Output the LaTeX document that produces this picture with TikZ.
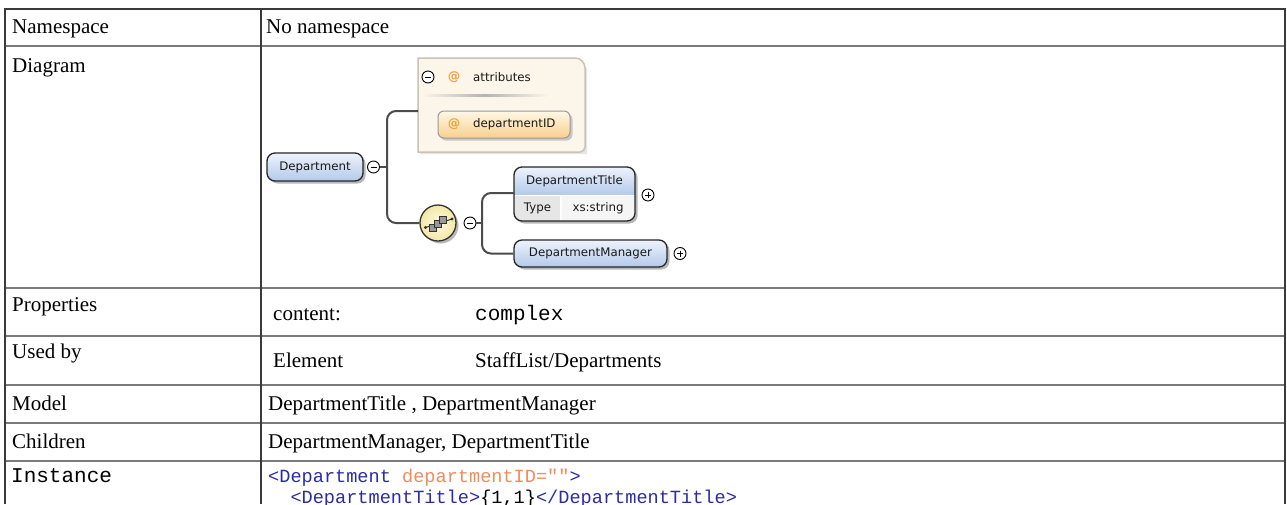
\documentclass[tikz,border=0pt]{standalone}
\usepackage{fontspec}
\setmainfont{Liberation Serif}
\newfontfamily\codefont{Liberation Mono}
\newfontfamily\dfont{DejaVu Sans}
\usetikzlibrary{calc}
\definecolor{tline}{HTML}{3A3A3A}
\definecolor{rline}{HTML}{7A7A7A}
\definecolor{elTop}{HTML}{EDF3FC}
\definecolor{elBot}{HTML}{B4C9EA}
\definecolor{attrFill}{HTML}{FBF5EA}
\definecolor{attrBorder}{HTML}{C9C2B6}
\definecolor{idTop}{HTML}{FFF7E6}
\definecolor{idBot}{HTML}{F9D08E}
\definecolor{atcol}{HTML}{EBA23A}
\definecolor{seqIn}{HTML}{FFFBE0}
\definecolor{seqOut}{HTML}{F2E7A6}
\definecolor{cblue}{HTML}{2B2BA8}
\definecolor{corange}{HTML}{F08C5C}
\definecolor{typeFill}{HTML}{E6E6E6}
\definecolor{valFill}{HTML}{F5F5F5}
\begin{document}
\begin{tikzpicture}[x=1pt,y=-1pt,
  lbl/.style={anchor=base west, inner sep=0pt, font=\fontsize{21}{24}\selectfont},
  mono/.style={anchor=base west, inner sep=0pt, font=\codefont\fontsize{21}{24}\selectfont},
  code/.style={anchor=base west, inner sep=0pt, font=\codefont\fontsize{18.6}{22}\selectfont},
  dtxt/.style={inner sep=0pt, font=\dfont\fontsize{11.8}{14}\selectfont, text=black!90},
  attxt/.style={inner sep=0pt, font=\dfont\bfseries\fontsize{12.5}{14}\selectfont, text=atcol},
  elbox/.style={draw=black!85, line width=1.3pt, rounded corners=8pt, top color=elTop, bottom color=elBot, inner sep=0pt, font=\dfont\fontsize{11.8}{14}\selectfont, text=black!90},
  shd/.style={fill=black!28, rounded corners=8pt},
  conn/.style={draw=black!70, line width=2pt, rounded corners=9pt},
  tog/.style={circle, draw=black, line width=0.9pt, fill=white, minimum size=12pt, inner sep=0pt},
  togminus/.style={tog, path picture={\draw[line width=0.9pt] ([xshift=-3pt]path picture bounding box.center) -- ([xshift=3pt]path picture bounding box.center);}},
  togplus/.style={tog, path picture={\draw[line width=0.9pt] ([xshift=-3pt]path picture bounding box.center) -- ([xshift=3pt]path picture bounding box.center) ([yshift=-3pt]path picture bounding box.center) -- ([yshift=3pt]path picture bounding box.center);}},
  rowl/.style={draw=rline, line width=1.5pt},
]
\useasboundingbox (0,0) rectangle (1287,504);
\fill[white] (0,0) rectangle (1287,504);

% ---------- table ----------
\foreach \yy in {46,288,336,385,423,461} {\draw[rowl] (5,\yy) -- (1285,\yy);}
\draw[tline, line width=1.3pt] (261,9) -- (261,504);
\draw[tline, line width=1.3pt] (5,504) -- (5,9) -- (1285,9) -- (1285,504);

\node[lbl] (lns) at (12,33.5) {Namespace};
\node[lbl] (vns) at (266,33.5) {No namespace};
\node[lbl] (ldg) at (12,72) {Diagram};
\node[lbl] (lpr) at (12,311.5) {Properties};
\node[lbl] (vpr) at (273,320) {content:};
\node[mono] (vpr2) at (475,320) {complex};
\node[lbl] (lub) at (12,358.5) {Used by};
\node[lbl] (vub) at (273,367) {Element};
\node[lbl] (vub2) at (475,367) {StaffList/Departments};
\node[lbl] (lmo) at (12,410) {Model};
\node[lbl] (vmo) at (268,410) {DepartmentTitle , DepartmentManager};
\node[lbl] (lch) at (12,448) {Children};
\node[lbl] (vch) at (268,448) {DepartmentManager, DepartmentTitle};
\node[mono] (lin) at (11,482) {Instance};
\begin{scope}
\clip (0,0) rectangle (1287,504);
\node[code] (c1) at (268,482) {\textcolor{cblue}{<Department} \textcolor{corange}{departmentID=""}\textcolor{cblue}{>}};
\node[code] (c2) at (290.3,503) {\textcolor{cblue}{<DepartmentTitle>}\{1,1\}\textcolor{cblue}{</DepartmentTitle>}};
\end{scope}

% ---------- diagram ----------
% attributes container
\fill[black!10] (420,60) -- (420,154) -- (587,154) -- (587,68) -- cycle;
\node[minimum width=167pt, minimum height=94pt, inner sep=0pt] (attrs) at (501.5,105) {};
\filldraw[fill=attrFill, draw=attrBorder, line width=1.5pt] (418,152) -- (418,58) [rounded corners=10pt] -- (585,58) [rounded corners=5pt] -- (585,152) [sharp corners] -- cycle;
\node[togminus] (amin) at (428,77) {};
\node[attxt] (aat) at (454,77) {@};
\node[dtxt, anchor=west] (atxt) at (473,77) {attributes};
\shade[left color=attrFill, right color=attrFill, middle color=black!30] (422,94.3) rectangle (548,96.3);

% departmentID
\fill[black!22, rounded corners=6pt] (440,113.5) rectangle (572.5,140.5);
\node[draw=black!40, line width=1pt, rounded corners=6pt, top color=idTop, bottom color=idBot, minimum width=132pt, minimum height=27pt, inner sep=0pt] (depid) at (504,124.5) {};
\node[attxt] (did) at (454,124.5) {@};
\node[dtxt, anchor=west] (didt) at (473,124.5) {departmentID};

% Department element
\fill[shd] (269.5,155.5) rectangle (365.5,183.5);
\node[elbox, minimum width=96pt, minimum height=28pt] (dep) at (315,167) {Department};
\node[togminus] (dmin) at (373.5,167) {};
\coordinate (t1) at (387,167);
\coordinate (attrin) at (418,111);

% sequence compositor
\fill[black!28] (440.5,225.5) circle (18pt);
\node[circle, draw=black!80, line width=1.3pt, inner color=seqIn, outer color=seqOut, minimum size=36pt, inner sep=0pt] (seq) at (438,223) {};
\draw[black!80, line width=1pt] (425.5,227.5) -- (452,219);
\fill[black!80] (425.5,227.5) circle (1.6pt) (452,219) circle (1.6pt);
\filldraw[fill=black!40, draw=black!80, line width=0.8pt] (429,224) rectangle (436,231);
\filldraw[fill=black!40, draw=black!80, line width=0.8pt] (434,220) rectangle (441,227);
\filldraw[fill=black!40, draw=black!80, line width=0.8pt] (439,216) rectangle (446,223);
\node[togminus] (smin) at (470,223) {};
\coordinate (t2) at (482,223);

% DepartmentTitle
\fill[shd] (516.5,169.5) rectangle (637.5,223.5);
\begin{scope}
\clip[rounded corners=8pt] (514,167) rectangle (635,221);
\shade[top color=elTop, bottom color=elBot] (514,167) rectangle (635,195);
\fill[typeFill] (514,195) rectangle (561,221);
\fill[valFill] (561,195) rectangle (635,221);
\draw[white, line width=1pt] (514,195) -- (635,195);
\draw[white, line width=1.2pt] (561,195) -- (561,221);
\end{scope}
\node[draw=black!85, line width=1.3pt, rounded corners=8pt, minimum width=121pt, minimum height=54pt, inner sep=0pt] (dtitle) at (574.5,194) {};
\node[dtxt] (dtt) at (574.5,181) {DepartmentTitle};
\node[dtxt] (dtty) at (537.5,208.5) {Type};
\node[dtxt] (dtval) at (598,208.5) {xs:string};
\node[togplus] (dtplus) at (648,195) {};
\coordinate (dtin) at (514,193);

% DepartmentManager
\fill[shd] (516.5,242.5) rectangle (669.5,269.5);
\node[elbox, minimum width=153pt, minimum height=27pt] (dmgr) at (590.5,253.5) {DepartmentManager};
\node[togplus] (dmplus) at (680,253.5) {};

% connectors
\draw[conn] (dmin.east) -- (t1);
\draw[conn] (attrin) -| (t1) |- (seq.west);
\draw[conn] (smin.east) -- (t2);
\draw[conn] (dtin) -| (t2) |- (dmgr.west);
\end{tikzpicture}
\end{document}
